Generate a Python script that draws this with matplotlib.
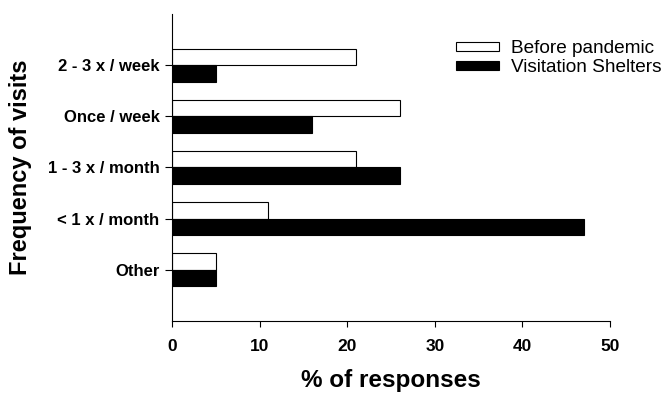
import numpy as np
import matplotlib.pyplot as plt

plt.rcParams['font.family'] = ['Liberation Sans', 'DejaVu Sans']

categories = ['2 - 3 x / week', 'Once / week', '1 - 3 x / month', '< 1 x / month', 'Other']
before = [21, 26, 21, 11, 5]
shelters = [5, 16, 26, 47, 5]

fig = plt.figure(figsize=(6.63, 3.94), dpi=100)
ax = fig.add_axes([0.2594, 0.1853, 0.6606, 0.7792])

pos = np.arange(len(categories))[::-1]
h = 0.32
ax.barh(pos + h / 2, before, height=h, color='white', edgecolor='black', linewidth=0.8,
        label='Before pandemic')
ax.barh(pos - h / 2, shelters, height=h, color='black', edgecolor='black', linewidth=0.8,
        label='Visitation Shelters')

ax.set_xlim(0, 50)
ax.set_ylim(-1, 5)
ax.set_xticks(range(0, 51, 10))
ax.set_yticks(pos)
ax.set_yticklabels(categories)
for lab in ax.get_xticklabels() + ax.get_yticklabels():
    lab.set_fontweight('bold')
ax.tick_params(axis='x', labelsize=12.5, length=4, width=0.8, pad=9)
ax.tick_params(axis='y', labelsize=12, length=5, width=0.8, pad=4)

ax.spines['top'].set_visible(False)
ax.spines['right'].set_visible(False)
ax.spines['left'].set_linewidth(0.8)
ax.spines['bottom'].set_linewidth(0.8)

ax.set_xlabel('% of responses', fontsize=17.5, fontweight='bold', labelpad=11)
ax.set_ylabel('Frequency of visits', fontsize=17, fontweight='bold', labelpad=11)

ax.legend(loc='upper right', bbox_to_anchor=(1.135, 0.94), frameon=False, fontsize=13.7,
          handlelength=2.25, handleheight=0.35, labelspacing=0.12, handletextpad=0.65,
          borderaxespad=0)

fig.savefig('out.png', dpi=100)
